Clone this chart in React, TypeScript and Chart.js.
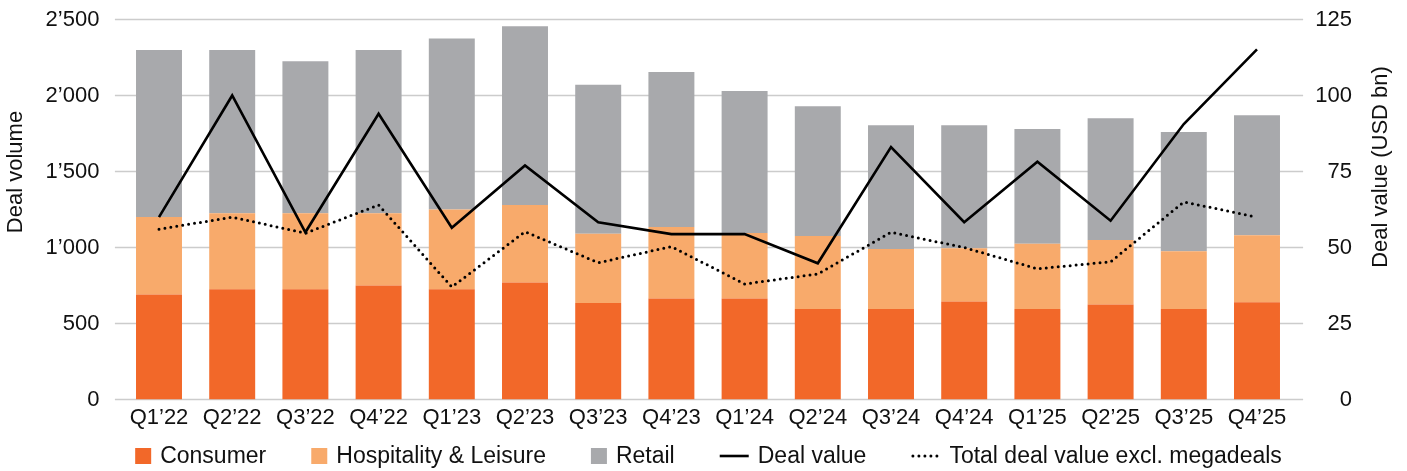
import React, { useEffect, useRef } from "react";
import { Chart, registerables } from "chart.js";

Chart.register(...registerables);

const categories = [
  "Q1’22", "Q2’22", "Q3’22", "Q4’22",
  "Q1’23", "Q2’23", "Q3’23", "Q4’23",
  "Q1’24", "Q2’24", "Q3’24", "Q4’24",
  "Q1’25", "Q2’25", "Q3’25", "Q4’25",
];

const consumer = [690, 725, 725, 750, 725, 770, 635, 665, 665, 595, 595, 645, 595, 625, 595, 640];
const hospitality = [510, 500, 500, 475, 525, 510, 455, 470, 430, 480, 395, 350, 430, 425, 380, 440];
const retail = [1100, 1075, 1000, 1075, 1125, 1175, 980, 1020, 935, 855, 815, 810, 755, 800, 785, 790];

const dealValue = [60, 100, 55, 94, 56.5, 77, 58.3, 54.4, 54.4, 44.8, 83, 58.3, 78.2, 58.8, 90.6, 115.2];
const dealValueExMega = [56, 60, 54.7, 64, 37, 55.2, 45, 50.3, 38, 41.3, 55, 50, 43, 45.3, 65, 60];

const volumeTickStep = 500;
const volumeMax = 2500;
const valueTickStep = 25;
const valueMax = 125;

const leftTitle = "Deal volume";
const rightTitle = "Deal value (USD bn)";

const COLORS = {
  consumer: "#F26829",
  hospitality: "#F8AA6B",
  retail: "#A8A9AC",
  line: "#000000",
  grid: "#CCCCCC",
  text: "#111111",
};

const FONT = "'Liberation Sans', Arial, Helvetica, sans-serif";

function formatThousands(v: number): string {
  if (v >= 1000) {
    const th = Math.floor(v / 1000);
    const rest = String(v % 1000).padStart(3, "0");
    return `${th}’${rest}`;
  }
  return String(v);
}

const gridPlugin = {
  id: "customGrid",
  beforeDatasetsDraw(chart: any) {
    const { ctx, chartArea } = chart;
    const y = chart.scales.y;
    ctx.save();
    ctx.strokeStyle = COLORS.grid;
    ctx.lineWidth = 1.4;
    y.ticks.forEach((t: any) => {
      const py = y.getPixelForValue(t.value);
      ctx.beginPath();
      ctx.moveTo(chartArea.left - 7.5, py);
      ctx.lineTo(chartArea.right + 9.5, py);
      ctx.stroke();
    });
    ctx.restore();
  },
};

const titlesAndLegendPlugin = {
  id: "titlesAndLegend",
  afterDraw(chart: any) {
    const { ctx, width } = chart;
    ctx.save();
    ctx.fillStyle = COLORS.text;
    ctx.font = `22px ${FONT}`;
    ctx.textAlign = "center";
    ctx.textBaseline = "middle";
    ctx.save();
    ctx.translate(16, 172);
    ctx.rotate(-Math.PI / 2);
    ctx.fillText(leftTitle, 0, 0);
    ctx.restore();
    ctx.save();
    ctx.translate(1381, 167);
    ctx.rotate(-Math.PI / 2);
    ctx.fillText(rightTitle, 0, 0);
    ctx.restore();

    const ds = chart.data.datasets;
    ctx.font = `23px ${FONT}`;
    const box = 16;
    const lineLen = 29;
    const textGap = 9;
    const itemGap = 45;
    const items = ds.map((d: any) => {
      const isLine = d.type === "line";
      const glyph = isLine ? lineLen : box;
      const tw = ctx.measureText(d.label).width;
      return { d, isLine, glyph, tw, w: glyph + textGap + tw };
    });
    const total = items.reduce((s: number, it: any) => s + it.w, 0) + itemGap * (items.length - 1);
    let x = width / 2 + 5 - total / 2;
    const cy = 456;
    items.forEach((it: any) => {
      if (it.isLine) {
        ctx.save();
        ctx.strokeStyle = it.d.borderColor;
        ctx.lineWidth = it.d.borderWidth;
        const dashed = it.d.borderDash && it.d.borderDash.length;
        if (dashed) {
          ctx.setLineDash(it.d.borderDash);
          ctx.lineCap = "round";
        } else {
          ctx.lineCap = "butt";
        }
        ctx.beginPath();
        ctx.moveTo(x + (dashed ? 1.5 : 0), cy);
        ctx.lineTo(x + lineLen, cy);
        ctx.stroke();
        ctx.restore();
      } else {
        ctx.fillStyle = it.d.backgroundColor;
        ctx.fillRect(x, cy - box / 2, box, box);
      }
      ctx.fillStyle = COLORS.text;
      ctx.textAlign = "left";
      ctx.textBaseline = "middle";
      ctx.fillText(it.d.label, x + it.glyph + textGap, cy + 1);
      x += it.w + itemGap;
    });
    ctx.restore();
  },
};

export default function App() {
  const canvasRef = useRef<HTMLCanvasElement | null>(null);

  useEffect(() => {
    if (!canvasRef.current) return;
    const barCommon = {
      type: "bar" as const,
      yAxisID: "y",
      stack: "volume",
      barPercentage: 1,
      categoryPercentage: 0.628,
      borderWidth: 0,
      order: 2,
    };
    const chart = new Chart(canvasRef.current, {
      type: "bar",
      data: {
        labels: categories,
        datasets: [
          { ...barCommon, label: "Consumer", data: consumer, backgroundColor: COLORS.consumer },
          { ...barCommon, label: "Hospitality & Leisure", data: hospitality, backgroundColor: COLORS.hospitality },
          { ...barCommon, label: "Retail", data: retail, backgroundColor: COLORS.retail },
          {
            type: "line",
            label: "Deal value",
            data: dealValue,
            yAxisID: "y1",
            borderColor: COLORS.line,
            backgroundColor: COLORS.line,
            borderWidth: 2.6,
            borderJoinStyle: "miter",
            pointRadius: 0,
            tension: 0,
            fill: false,
            order: 0,
          },
          {
            type: "line",
            label: "Total deal value excl. megadeals",
            data: dealValueExMega,
            yAxisID: "y1",
            borderColor: COLORS.line,
            backgroundColor: COLORS.line,
            borderWidth: 3,
            borderDash: [0, 6],
            borderCapStyle: "round",
            pointRadius: 0,
            tension: 0,
            fill: false,
            order: 1,
          },
        ] as any,
      },
      options: {
        animation: false,
        responsive: true,
        maintainAspectRatio: false,
        layout: { padding: { top: 19.5, left: 0, right: 55, bottom: 41.5 } },
        plugins: {
          legend: { display: false },
          tooltip: { enabled: false },
          title: { display: false },
        },
        scales: {
          x: {
            stacked: true,
            grid: { display: false, drawTicks: false },
            border: { display: false },
            ticks: {
              color: COLORS.text,
              font: { family: FONT, size: 22 },
              padding: 5,
              maxRotation: 0,
              autoSkip: false,
            },
            afterFit: (s: any) => {
              s.height = 30;
              s.paddingLeft = 0;
              s.paddingRight = 0;
            },
          },
          y: {
            position: "left",
            stacked: true,
            min: 0,
            max: volumeMax,
            grid: { display: false, drawTicks: false },
            border: { display: false },
            ticks: {
              stepSize: volumeTickStep,
              color: COLORS.text,
              font: { family: FONT, size: 22 },
              padding: 23,
              callback: (v: any) => formatThousands(Number(v)),
            },
            afterFit: (s: any) => {
              s.width = 122.4;
              s.paddingTop = 0;
              s.paddingBottom = 0;
            },
          },
          y1: {
            position: "right",
            stacked: false,
            min: 0,
            max: valueMax,
            grid: { display: false, drawTicks: false },
            border: { display: false },
            ticks: {
              stepSize: valueTickStep,
              color: COLORS.text,
              font: { family: FONT, size: 22 },
              padding: 0,
              crossAlign: "far",
            },
            afterFit: (s: any) => {
              s.width = 58.4;
              s.paddingTop = 0;
              s.paddingBottom = 0;
            },
          },
        },
      } as any,
      plugins: [gridPlugin, titlesAndLegendPlugin],
    });
    return () => chart.destroy();
  }, []);

  return (
    <div style={{ position: "absolute", left: 0, top: 0, width: 1407, height: 471, background: "#fff" }}>
      <canvas ref={canvasRef} />
    </div>
  );
}
